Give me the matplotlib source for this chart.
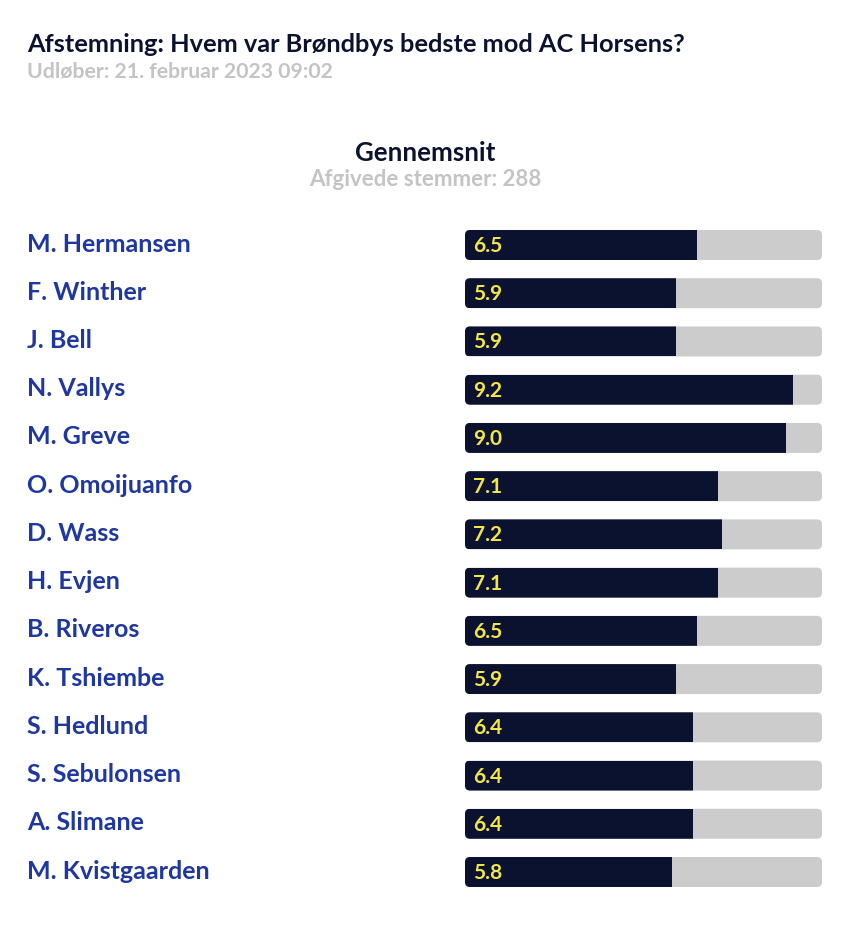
import matplotlib
matplotlib.use("Agg")
import matplotlib.pyplot as plt
from matplotlib.patches import FancyBboxPatch, Rectangle
import matplotlib.transforms as mtrans

title = "Afstemning: Hvem var Brøndbys bedste mod AC Horsens?"
subtitle = "Udløber: 21. februar 2023 09:02"
header = "Gennemsnit"
votes_label = "Afgivede stemmer: 288"

players = ["M. Hermansen", "F. Winther", "J. Bell", "N. Vallys", "M. Greve",
           "O. Omoijuanfo", "D. Wass", "H. Evjen", "B. Riveros", "K. Tshiembe",
           "S. Hedlund", "S. Sebulonsen", "A. Slimane", "M. Kvistgaarden"]
scores = [6.5, 5.9, 5.9, 9.2, 9.0, 7.1, 7.2, 7.1, 6.5, 5.9, 6.4, 6.4, 6.4, 5.8]
max_score = 10

NAVY = "#0b1230"
BLUE = "#1f37a0"
GRAY_TXT = "#c4c4c4"
BAR_BG = "#cccccc"
YELLOW = "#f4e645"
FONT = "Lato"

W, H = 853, 950
fig = plt.figure(figsize=(W / 100, H / 100), dpi=100)
fig.patch.set_facecolor("white")

fig.text(27 / W, 1 - 44 / H, title, fontsize=18.3, fontweight="bold", color=NAVY,
         family=FONT, va="center", ha="left")
fig.text(27 / W, 1 - 71 / H, subtitle, fontsize=15.3, fontweight="bold", color=GRAY_TXT,
         family=FONT, va="center", ha="left")
fig.text(425 / W, 1 - 153 / H, header, fontsize=18.6, fontweight="bold", color=NAVY,
         family=FONT, va="center", ha="center")
fig.text(425 / W, 1 - 180 / H, votes_label, fontsize=16, fontweight="bold", color=GRAY_TXT,
         family=FONT, va="center", ha="center")

n = len(players)
row = (872 - 245) / (n - 1)
left_px, right_px = 465, 822
top_px = 245 - row / 2
bot_px = 872 + row / 2
ax = fig.add_axes([left_px / W, 1 - bot_px / H, (right_px - left_px) / W, (bot_px - top_px) / H])
ax.set_xlim(0, max_score)
ax.set_ylim(n - 0.5, -0.5)
ax.axis("off")

bar_h = 30 / row
xunit = (right_px - left_px) / max_score
r_px = 5
rs = r_px / xunit
m_aspect = xunit / row
name_trans = mtrans.blended_transform_factory(fig.transFigure, ax.transData)
val_trans = ax.transData + mtrans.ScaledTranslation(8 / 100, 0, fig.dpi_scale_trans)

for i, (name, v) in enumerate(zip(players, scores)):
    y0 = i - bar_h / 2
    bg = FancyBboxPatch((0, y0), max_score, bar_h,
                        boxstyle=f"round,pad=0,rounding_size={rs}",
                        mutation_aspect=m_aspect, fc=BAR_BG, ec="none")
    ax.add_patch(bg)
    fg = Rectangle((0, y0), v, bar_h, fc=NAVY, ec="none")
    ax.add_patch(fg)
    fg.set_clip_path(bg)
    ax.text(0, i + 0.02, f"{v:.1f}", transform=val_trans,
            fontsize=15, fontweight="bold", color=YELLOW, family=FONT, va="center", ha="left")
    ax.text(27 / W, i - 0.02, name, transform=name_trans, fontsize=18, fontweight="bold", color=BLUE,
            family=FONT, va="center", ha="left")

fig.savefig("out.png", dpi=100, facecolor="white")
